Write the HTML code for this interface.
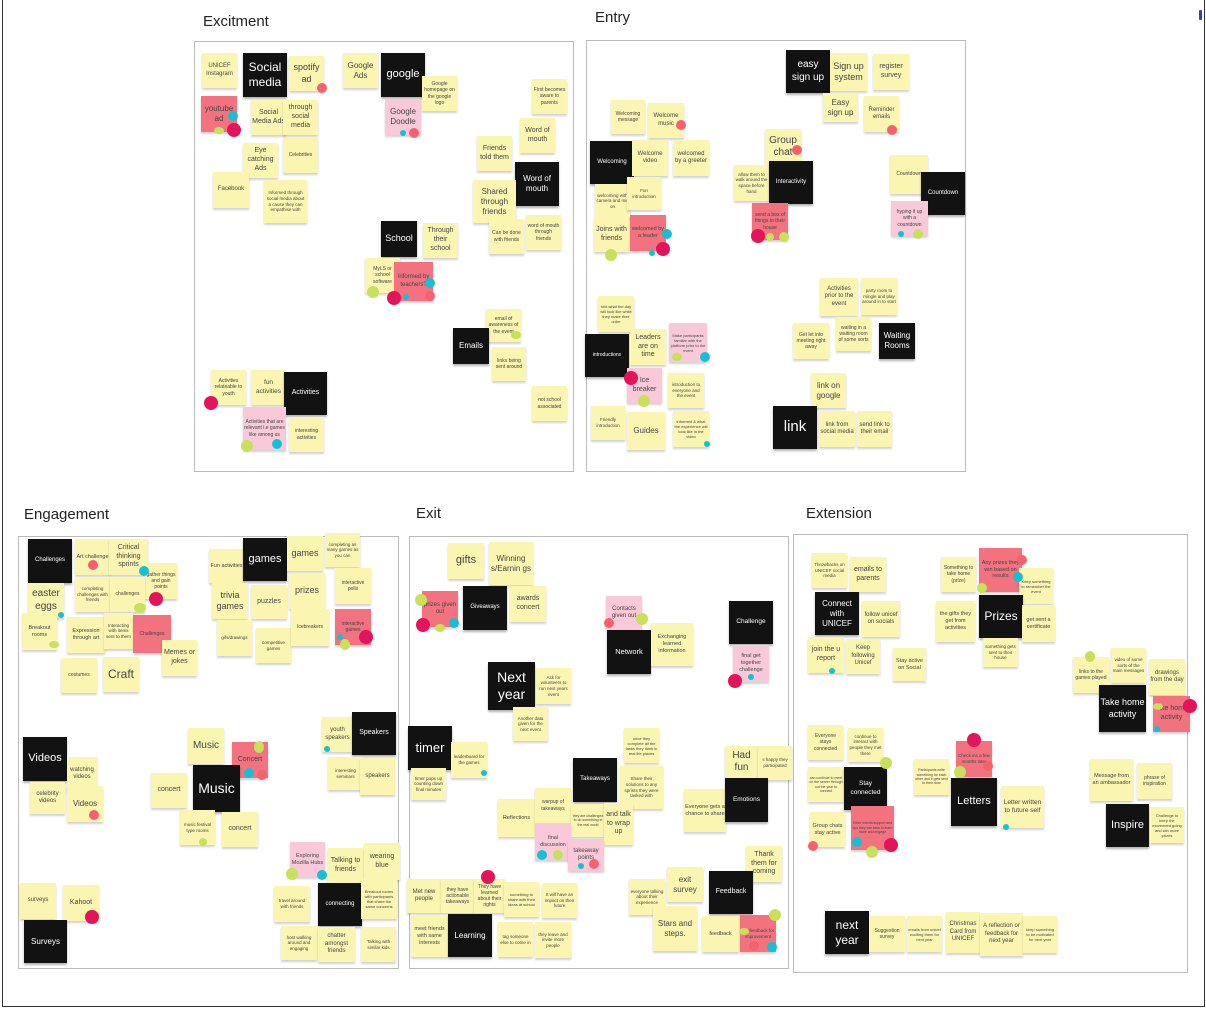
<!DOCTYPE html>
<html><head><meta charset="utf-8"><style>
html,body{margin:0;padding:0;background:#fff;}
body{width:1206px;height:1010px;position:relative;overflow:hidden;font-family:"Liberation Sans",sans-serif;}
.outer{position:absolute;left:2px;top:-2px;width:1201px;height:1008px;border:1px solid #333;border-top:none;}
.f{position:absolute;border:1px solid #bbb;background:#fff;}
.t{position:absolute;font-size:15px;color:#222;}
.n{position:absolute;width:35px;height:35px;background:#fbf5b2;color:#444;display:flex;align-items:center;justify-content:center;text-align:center;font-size:6px;line-height:1.25;box-shadow:0 2px 2px rgba(0,0,0,.18);overflow:hidden;box-sizing:border-box;padding:1px;}
.k{background:#121212;color:#fff;width:44px;height:44px;font-size:7px;box-shadow:0 2px 2px rgba(0,0,0,.3);}
.p{background:#f9c9da;}
.r{background:#f2737f;}
.d{position:absolute;border-radius:50%;}
.c{background:#f6616d}.m{background:#e2145b}.b{background:#15c0d3}.g{background:#c8e05a}
</style></head><body>
<div class="outer"></div>
<div class="t" style="left:203px;top:13px">Excitment</div>
<div class="t" style="left:595px;top:9px">Entry</div>
<div class="t" style="left:24px;top:506px">Engagement</div>
<div class="t" style="left:416px;top:505px">Exit</div>
<div class="t" style="left:806px;top:505px">Extension</div>
<div class="f" style="left:194px;top:41px;width:378px;height:429px"></div>
<div class="f" style="left:586px;top:40px;width:378px;height:430px"></div>
<div class="f" style="left:18px;top:536px;width:379px;height:431px"></div>
<div class="f" style="left:409px;top:536px;width:378px;height:431px"></div>
<div class="f" style="left:793px;top:534px;width:393px;height:437px"></div>
<div class="d" style="left:1199px;top:10px;width:3px;height:10px;background:#2a3dd8;border-radius:1px"></div>

<!-- Excitment -->
<div class="n" style="left:202px;top:53px">UNICEF Instagram</div>
<div class="n k" style="left:243px;top:53px;font-size:12px">Social media</div>
<div class="n" style="left:289px;top:56px;font-size:9px">spotify ad</div>
<div class="n" style="left:343px;top:53px;font-size:8px">Google Ads</div>
<div class="n k" style="left:381px;top:53px;font-size:11px">google</div>
<div class="n" style="left:422px;top:76px;font-size:5px">Google homepage on the google logo</div>
<div class="n r" style="left:201px;top:96px;width:36px;height:36px;font-size:8px">youtube ad</div>
<div class="n" style="left:251px;top:100px;font-size:7px">Social Media Ads</div>
<div class="n" style="left:283px;top:100px;font-size:7px">through social media</div>
<div class="n p" style="left:385px;top:99px;width:36px;height:36px;font-size:8px">Google Doodle</div>
<div class="n" style="left:532px;top:79px;font-size:5px">First becomes aware to parents</div>
<div class="n" style="left:520px;top:118px;font-size:7px">Word of mouth</div>
<div class="n" style="left:477px;top:136px;font-size:7px">Friends told them</div>
<div class="n" style="left:243px;top:143px;font-size:7px">Eye catching Ads</div>
<div class="n" style="left:283px;top:138px;font-size:5px">Celebrities</div>
<div class="n k" style="left:515px;top:162px;font-size:8px">Word of mouth</div>
<div class="n" style="left:473px;top:180px;width:43px;height:43px;font-size:8px">Shared through friends</div>
<div class="n" style="left:213px;top:172px;width:36px;height:36px;font-size:6px">Facebook</div>
<div class="n" style="left:264px;top:180px;width:43px;height:43px;font-size:4.5px">Informed through social media about a cause they can empathise with</div>
<div class="n" style="left:489px;top:219px;font-size:5px">Can be done with friends</div>
<div class="n" style="left:526px;top:215px;font-size:5px">word of mouth through friends</div>
<div class="n k" style="left:381px;top:221px;width:36px;height:36px;font-size:9px">School</div>
<div class="n" style="left:423px;top:223px;font-size:7px">Through their school</div>
<div class="n" style="left:365px;top:258px;font-size:5px">MyLS or school software</div>
<div class="n r" style="left:394px;top:262px;width:39px;height:39px;font-size:6px">Informed by teachers?</div>
<div class="n" style="left:486px;top:309px;height:33px;font-size:5px">email of awareness of the event</div>
<div class="n k" style="left:453px;top:328px;width:36px;height:36px;font-size:8px">Emails</div>
<div class="n" style="left:492px;top:347px;width:34px;height:34px;font-size:5px">links being sent around</div>
<div class="n" style="left:211px;top:370px;font-size:5px">Activities relateable to youth</div>
<div class="n" style="left:251px;top:370px;font-size:6.5px">fun activities</div>
<div class="n k" style="left:284px;top:372px;width:43px;height:43px;font-size:7px">Activities</div>
<div class="n" style="left:532px;top:386px;font-size:5px">not school associated</div>
<div class="n p" style="left:243px;top:407px;width:43px;height:43px;font-size:5px">Activities that are relevant i.e games like among us</div>
<div class="n" style="left:289px;top:417px;font-size:5px">interesting activities</div>
<div class="d b" style="left:228px;top:111px;width:10px;height:10px"></div>
<div class="d g" style="left:214px;top:127px;width:10px;height:7px"></div>
<div class="d m" style="left:227px;top:123px;width:14px;height:14px"></div>
<div class="d c" style="left:317px;top:83px;width:10px;height:10px"></div>
<div class="d b" style="left:400px;top:130px;width:6px;height:6px"></div>
<div class="d c" style="left:409px;top:128px;width:10px;height:10px"></div>
<div class="d b" style="left:425px;top:278px;width:10px;height:10px"></div>
<div class="d c" style="left:425px;top:291px;width:10px;height:10px"></div>
<div class="d b" style="left:403px;top:294px;width:6px;height:6px"></div>
<div class="d m" style="left:387px;top:291px;width:14px;height:14px"></div>
<div class="d g" style="left:367px;top:286px;width:12px;height:12px"></div>
<div class="d g" style="left:511px;top:331px;width:10px;height:8px"></div>
<div class="d m" style="left:204px;top:396px;width:14px;height:14px"></div>
<div class="d g" style="left:241px;top:440px;width:12px;height:12px"></div>
<div class="d b" style="left:272px;top:439px;width:10px;height:10px"></div>

<!-- Entry -->
<div class="n k" style="left:786px;top:50px;height:43px;font-size:10px">easy sign up</div>
<div class="n" style="left:830px;top:53px;width:37px;height:38px;font-size:9px">Sign up system</div>
<div class="n" style="left:873px;top:54px;width:36px;height:36px;font-size:7px">register survey</div>
<div class="n" style="left:823px;top:93px;height:29px;font-size:8px">Easy sign up</div>
<div class="n" style="left:864px;top:96px;height:36px;font-size:6px">Reminder emails</div>
<div class="n" style="left:611px;top:100px;width:34px;height:34px;font-size:5px">Welcoming message</div>
<div class="n" style="left:648px;top:103px;width:36px;font-size:6px">Welcome music</div>
<div class="n" style="left:765px;top:129px;width:36px;height:36px;font-size:10px">Group chat</div>
<div class="n k" style="left:590px;top:141px;height:43px;font-size:6px">Welcoming</div>
<div class="n" style="left:632px;top:140px;width:36px;height:36px;font-size:6px">Welcome video</div>
<div class="n" style="left:673px;top:140px;width:36px;height:36px;font-size:6px">welcomed by a greeter</div>
<div class="n" style="left:890px;top:155px;width:38px;height:39px;font-size:5px">Countdown</div>
<div class="n k" style="left:921px;top:172px;height:43px;font-size:6px">Countdown</div>
<div class="n" style="left:734px;top:165px;width:35px;height:36px;font-size:4.5px">allow them to walk around the space before hand</div>
<div class="n k" style="left:769px;top:161px;height:43px;font-size:6px">Interactivity</div>
<div class="n" style="left:595px;top:184px;height:34px;font-size:4.5px">welcoming with camera and mic on</div>
<div class="n" style="left:627px;top:177px;width:34px;height:33px;font-size:4.5px">Fun introduction</div>
<div class="n" style="left:594px;top:217px;font-size:7px">Joins with friends</div>
<div class="n r" style="left:630px;top:215px;width:36px;height:36px;font-size:5.5px">welcomed by a leader</div>
<div class="n r" style="left:752px;top:203px;width:36px;height:37px;font-size:5px">send a box of things to their house</div>
<div class="n p" style="left:891px;top:201px;width:37px;height:35px;font-size:5px">hyping it up with a countdown</div>
<div class="n" style="left:820px;top:278px;width:38px;height:38px;font-size:6px">Activities prior to the event</div>
<div class="n" style="left:861px;top:278px;width:36px;height:37px;font-size:4.5px">party room to mingle and play around in to start</div>
<div class="n" style="left:793px;top:323px;width:36px;height:36px;font-size:5px">Get let into meeting right away</div>
<div class="n" style="left:836px;top:317px;height:34px;font-size:5px">waiting in a waiting room of some sorts</div>
<div class="n k" style="left:879px;top:323px;width:36px;height:36px;font-size:8px">Waiting Rooms</div>
<div class="n" style="left:598px;top:296px;width:36px;height:36px;font-size:4px">told what the day will look like while they make their order</div>
<div class="n k" style="left:585px;top:334px;height:43px;font-size:5px">introductions</div>
<div class="n" style="left:630px;top:329px;width:36px;height:36px;font-size:7px">Leaders are on time</div>
<div class="n p" style="left:669px;top:323px;width:38px;height:39px;font-size:4px">Make participants familiar with the platform prior to the event</div>
<div class="n p" style="left:627px;top:368px;font-size:7px">Ice breaker</div>
<div class="n" style="left:668px;top:373px;width:36px;font-size:4.5px">introduction to everyone and the event</div>
<div class="n" style="left:811px;top:373px;font-size:8px">link on google</div>
<div class="n" style="left:591px;top:406px;width:34px;height:34px;font-size:4.5px">Friendly introduction</div>
<div class="n" style="left:627px;top:412px;width:38px;height:38px;font-size:8px">Guides</div>
<div class="n" style="left:673px;top:411px;width:36px;height:36px;font-size:4px">informed &amp; what the experience will look like in the video</div>
<div class="n k" style="left:773px;top:406px;height:43px;font-size:15px">link</div>
<div class="n" style="left:819px;top:411px;width:36px;height:36px;font-size:6px">link from social media</div>
<div class="n" style="left:857px;top:411px;height:36px;font-size:6px">send link to their email</div>
<div class="d c" style="left:887px;top:125px;width:10px;height:10px"></div>
<div class="d c" style="left:676px;top:120px;width:10px;height:10px"></div>
<div class="d c" style="left:792px;top:145px;width:10px;height:10px"></div>
<div class="d g" style="left:605px;top:249px;width:12px;height:12px"></div>
<div class="d b" style="left:662px;top:229px;width:10px;height:10px"></div>
<div class="d m" style="left:656px;top:242px;width:14px;height:14px"></div>
<div class="d b" style="left:649px;top:250px;width:6px;height:6px"></div>
<div class="d m" style="left:751px;top:229px;width:14px;height:14px"></div>
<div class="d g" style="left:766px;top:233px;width:8px;height:8px"></div>
<div class="d g" style="left:779px;top:232px;width:10px;height:10px"></div>
<div class="d b" style="left:898px;top:231px;width:6px;height:6px"></div>
<div class="d g" style="left:913px;top:229px;width:10px;height:10px"></div>
<div class="d g" style="left:672px;top:353px;width:10px;height:8px"></div>
<div class="d b" style="left:700px;top:352px;width:10px;height:10px"></div>
<div class="d m" style="left:624px;top:371px;width:14px;height:14px"></div>
<div class="d g" style="left:638px;top:395px;width:12px;height:12px"></div>
<div class="d b" style="left:704px;top:441px;width:6px;height:6px"></div>

<!-- Engagement -->
<div class="n k" style="left:28px;top:539px;font-size:6px">Challenges</div>
<div class="n" style="left:75px;top:539px;height:36px;font-size:5.5px">Art challenge</div>
<div class="n" style="left:109px;top:539px;width:39px;height:36px;font-size:7px">Critical thinking sprints</div>
<div class="n" style="left:145px;top:563px;width:32px;height:36px;font-size:5px">gather things and gain points</div>
<div class="n" style="left:28px;top:583px;width:36px;font-size:10px">easter eggs</div>
<div class="n" style="left:75px;top:577px;font-size:4.5px">completing challenges with friends</div>
<div class="n" style="left:110px;top:577px;font-size:5px">challenges</div>
<div class="n" style="left:22px;top:613px;height:37px;font-size:5.5px">Breakout rooms</div>
<div class="n" style="left:67px;top:617px;width:38px;height:36px;font-size:5.5px">Expression through art</div>
<div class="n" style="left:104px;top:613px;width:29px;height:36px;font-size:4.5px">Interacting with items sent to them</div>
<div class="n r" style="left:133px;top:615px;width:38px;height:38px;font-size:5px">Challenges</div>
<div class="n" style="left:162px;top:640px;height:36px;font-size:7px">Memes or jokes</div>
<div class="n" style="left:61px;top:658px;width:36px;font-size:5px">costumes</div>
<div class="n" style="left:103px;top:657px;width:36px;font-size:12px">Craft</div>
<div class="n" style="left:209px;top:549px;height:34px;font-size:5.5px">Fun activities</div>
<div class="n k" style="left:243px;top:538px;height:43px;font-size:11px">games</div>
<div class="n" style="left:287px;top:536px;width:36px;font-size:9px">games</div>
<div class="n" style="left:325px;top:533px;height:34px;font-size:4.5px">completing as many games as you can</div>
<div class="n" style="left:212px;top:583px;width:36px;height:36px;font-size:9px">trivia games</div>
<div class="n" style="left:251px;top:585px;width:36px;height:34px;font-size:7px">puzzles</div>
<div class="n" style="left:289px;top:573px;width:36px;height:36px;font-size:9px">prizes</div>
<div class="n" style="left:335px;top:568px;width:36px;height:36px;font-size:5px">interactive polls</div>
<div class="n" style="left:217px;top:620px;height:36px;font-size:4.5px">gifs/drawings</div>
<div class="n" style="left:256px;top:628px;font-size:4.5px">competitive games</div>
<div class="n" style="left:291px;top:609px;width:38px;height:37px;font-size:5px">Icebreakers</div>
<div class="n r" style="left:335px;top:609px;width:36px;height:36px;font-size:5px">interactive games</div>
<div class="n k" style="left:23px;top:737px;font-size:11px">Videos</div>
<div class="n" style="left:67px;top:757px;width:30px;height:34px;font-size:6px">watching videos</div>
<div class="n" style="left:30px;top:782px;height:32px;font-size:6px">celebrity videos</div>
<div class="n" style="left:67px;top:786px;width:36px;height:36px;font-size:8px">Videos</div>
<div class="n" style="left:188px;top:728px;width:36px;height:36px;font-size:10px">Music</div>
<div class="n r" style="left:232px;top:742px;width:36px;height:36px;font-size:7px">Concert</div>
<div class="n" style="left:151px;top:773px;width:36px;font-size:7px">concert</div>
<div class="n k" style="left:193px;top:765px;width:47px;height:47px;font-size:14px">Music</div>
<div class="n" style="left:180px;top:810px;font-size:4.5px">music festival type rooms</div>
<div class="n" style="left:222px;top:812px;width:36px;font-size:7px">concert</div>
<div class="n" style="left:322px;top:717px;width:31px;font-size:6px">youth speakers</div>
<div class="n k" style="left:352px;top:712px;height:43px;font-size:7px">Speakers</div>
<div class="n" style="left:328px;top:757px;height:33px;font-size:4.5px">interesting seminars</div>
<div class="n" style="left:360px;top:758px;height:37px;font-size:6px">speakers</div>
<div class="n p" style="left:290px;top:842px;font-size:5.5px">Exploring Mozilla Hubs</div>
<div class="n" style="left:328px;top:848px;font-size:7px">Talking to friends</div>
<div class="n" style="left:364px;top:843px;width:36px;height:37px;font-size:7px">wearing blue</div>
<div class="n" style="left:274px;top:886px;width:36px;height:36px;font-size:4.5px">travel around with friends</div>
<div class="n k" style="left:318px;top:883px;height:43px;font-size:6px">connecting</div>
<div class="n" style="left:361px;top:879px;width:36px;height:40px;font-size:4px">Breakout rooms with participants that share the same concerns</div>
<div class="n" style="left:20px;top:883px;width:36px;height:36px;font-size:6px">surveys</div>
<div class="n" style="left:63px;top:885px;width:36px;height:36px;font-size:7px">Kahoot</div>
<div class="n k" style="left:24px;top:920px;width:43px;height:43px;font-size:8px">Surveys</div>
<div class="n" style="left:281px;top:926px;width:36px;height:34px;font-size:4.5px">host walking around and engaging</div>
<div class="n" style="left:318px;top:927px;width:37px;font-size:6px">chatter amongst friends</div>
<div class="n" style="left:361px;top:927px;font-size:4.5px">Talking with similar kids</div>
<div class="d c" style="left:88px;top:560px;width:10px;height:10px"></div>
<div class="d b" style="left:139px;top:566px;width:10px;height:10px"></div>
<div class="d m" style="left:149px;top:592px;width:14px;height:14px"></div>
<div class="d b" style="left:58px;top:612px;width:6px;height:6px"></div>
<div class="d g" style="left:134px;top:603px;width:12px;height:10px"></div>
<div class="d g" style="left:49px;top:641px;width:10px;height:7px"></div>
<div class="d b" style="left:337px;top:634px;width:6px;height:6px"></div>
<div class="d g" style="left:340px;top:639px;width:10px;height:11px"></div>
<div class="d m" style="left:359px;top:630px;width:14px;height:14px"></div>
<div class="d c" style="left:89px;top:810px;width:10px;height:10px"></div>
<div class="d g" style="left:254px;top:741px;width:10px;height:12px"></div>
<div class="d b" style="left:244px;top:768px;width:10px;height:10px"></div>
<div class="d c" style="left:257px;top:770px;width:10px;height:10px"></div>
<div class="d g" style="left:199px;top:838px;width:8px;height:8px"></div>
<div class="d b" style="left:324px;top:746px;width:6px;height:6px"></div>
<div class="d g" style="left:286px;top:868px;width:12px;height:12px"></div>
<div class="d b" style="left:317px;top:870px;width:10px;height:10px"></div>
<div class="d m" style="left:85px;top:910px;width:14px;height:14px"></div>

<!-- Exit -->
<div class="n" style="left:448px;top:543px;width:36px;height:36px;font-size:11px">gifts</div>
<div class="n" style="left:489px;top:542px;width:44px;height:43px;font-size:8px">Winning s/Earnin gs</div>
<div class="n r" style="left:422px;top:591px;width:36px;height:36px;font-size:6px">prizes given out</div>
<div class="n k" style="left:463px;top:586px;font-size:6px">Giveaways</div>
<div class="n" style="left:510px;top:586px;width:36px;height:36px;font-size:7px">awards concert</div>
<div class="n p" style="left:606px;top:596px;width:36px;height:34px;font-size:6px">Contacts given out</div>
<div class="n k" style="left:729px;top:601px;height:43px;font-size:6.5px">Challenge</div>
<div class="n k" style="left:607px;top:630px;font-size:7.5px">Network</div>
<div class="n" style="left:651px;top:623px;width:42px;height:43px;font-size:5.5px">Exchanging learned information</div>
<div class="n p" style="left:733px;top:645px;width:36px;height:37px;font-size:5.5px">final get together challenge</div>
<div class="n k" style="left:488px;top:662px;width:47px;height:48px;font-size:14px">Next year</div>
<div class="n" style="left:536px;top:668px;height:36px;font-size:4.5px">Ask for volunteers to run next years event</div>
<div class="n" style="left:513px;top:707px;height:34px;font-size:4.5px">Another data given for the next event</div>
<div class="n k" style="left:408px;top:726px;font-size:13px">timer</div>
<div class="n" style="left:451px;top:742px;width:36px;height:36px;font-size:4.5px">leaderboard for the games</div>
<div class="n" style="left:411px;top:768px;height:32px;font-size:4.5px">timer pops up counting down final minutes</div>
<div class="n" style="left:624px;top:728px;font-size:4px">once they complete all the tasks they think in real life places</div>
<div class="n k" style="left:573px;top:758px;font-size:6px">Takeaways</div>
<div class="n" style="left:620px;top:766px;width:43px;height:43px;font-size:4.5px">Share their solutions to any sprints they were tasked with</div>
<div class="n" style="left:725px;top:746px;width:33px;height:32px;font-size:10px">Had fun</div>
<div class="n" style="left:758px;top:746px;width:34px;height:34px;font-size:4.5px">s happy they participated</div>
<div class="n" style="left:684px;top:789px;width:42px;height:43px;font-size:5.5px">Everyone gets a chance to share</div>
<div class="n k" style="left:725px;top:778px;width:43px;font-size:6.5px">Emotions</div>
<div class="n" style="left:498px;top:799px;width:37px;height:38px;font-size:5.5px">Reflections</div>
<div class="n" style="left:535px;top:788px;width:36px;font-size:5px">warpup of takeaways</div>
<div class="n" style="left:571px;top:804px;width:34px;height:33px;font-size:3.5px">they are challenged to do something in the real world</div>
<div class="n" style="left:604px;top:803px;width:29px;height:42px;font-size:7px">and talk to wrap up</div>
<div class="n p" style="left:535px;top:823px;width:36px;height:37px;font-size:5.5px">final discussion</div>
<div class="n p" style="left:568px;top:839px;width:36px;height:32px;font-size:6px">takeaway points</div>
<div class="n" style="left:746px;top:846px;width:36px;height:36px;font-size:7px">Thank them for coming</div>
<div class="n" style="left:407px;top:879px;width:34px;height:34px;font-size:6px">Met new people</div>
<div class="n" style="left:441px;top:879px;width:33px;height:34px;font-size:5px">they have actionable takeaways</div>
<div class="n" style="left:474px;top:879px;width:31px;height:34px;font-size:5px">They have learned about their rights</div>
<div class="n" style="left:504px;top:882px;font-size:4px">something to share with their ideas at school</div>
<div class="n" style="left:542px;top:883px;font-size:4.5px">It will have an impact on their future</div>
<div class="n" style="left:629px;top:879px;width:36px;height:36px;font-size:4.5px">everyone talking about their experience</div>
<div class="n" style="left:667px;top:867px;width:36px;font-size:8px">exit survey</div>
<div class="n k" style="left:709px;top:871px;height:43px;font-size:7px">Feedback</div>
<div class="n" style="left:411px;top:916px;width:37px;height:41px;font-size:5.5px">meet friends with same interests</div>
<div class="n k" style="left:448px;top:914px;height:43px;font-size:8px">Learning</div>
<div class="n" style="left:498px;top:922px;font-size:4.5px">tag someone else to come in</div>
<div class="n" style="left:535px;top:922px;width:36px;height:36px;font-size:4.5px">they leave and invite more people</div>
<div class="n" style="left:653px;top:906px;width:44px;height:45px;font-size:8px">Stars and steps.</div>
<div class="n" style="left:702px;top:916px;width:37px;height:36px;font-size:5.5px">feedback</div>
<div class="n r" style="left:740px;top:915px;width:36px;height:37px;font-size:4.5px">get feedback for improvement</div>
<div class="d g" style="left:415px;top:594px;width:12px;height:12px"></div>
<div class="d m" style="left:416px;top:618px;width:14px;height:14px"></div>
<div class="d g" style="left:435px;top:624px;width:10px;height:8px"></div>
<div class="d b" style="left:449px;top:618px;width:10px;height:10px"></div>
<div class="d c" style="left:604px;top:618px;width:10px;height:10px"></div>
<div class="d g" style="left:636px;top:613px;width:12px;height:12px"></div>
<div class="d m" style="left:728px;top:674px;width:14px;height:14px"></div>
<div class="d b" style="left:748px;top:674px;width:6px;height:6px"></div>
<div class="d b" style="left:481px;top:770px;width:6px;height:6px"></div>
<div class="d b" style="left:537px;top:850px;width:10px;height:10px"></div>
<div class="d g" style="left:553px;top:850px;width:10px;height:10px"></div>
<div class="d b" style="left:578px;top:863px;width:6px;height:6px"></div>
<div class="d c" style="left:589px;top:859px;width:10px;height:10px"></div>
<div class="d m" style="left:481px;top:870px;width:14px;height:14px"></div>
<div class="d g" style="left:769px;top:909px;width:12px;height:12px"></div>
<div class="d g" style="left:739px;top:928px;width:10px;height:7px"></div>
<div class="d c" style="left:749px;top:941px;width:10px;height:10px"></div>
<div class="d b" style="left:767px;top:942px;width:10px;height:10px"></div>

<!-- Extension -->
<div class="n" style="left:812px;top:553px;font-size:4.5px">Throwbacks on UNICEF social media</div>
<div class="n" style="left:850px;top:557px;width:36px;font-size:7px">emails to parents</div>
<div class="n" style="left:941px;top:557px;font-size:5px">Something to take home (prize)</div>
<div class="n r" style="left:979px;top:548px;width:43px;height:44px;font-size:5.5px">Any prizes they win based on results</div>
<div class="n" style="left:1019px;top:568px;width:34px;height:36px;font-size:4px">Keep something to remember the event</div>
<div class="n k" style="left:815px;top:592px;height:43px;font-size:8px">Connect with UNICEF</div>
<div class="n" style="left:862px;top:601px;width:38px;height:36px;font-size:6px">follow unicef on socials</div>
<div class="n" style="left:936px;top:601px;width:39px;height:41px;font-size:5.5px">the gifts they get from activities</div>
<div class="n k" style="left:979px;top:595px;height:43px;font-size:12px">Prizes</div>
<div class="n" style="left:1022px;top:605px;width:33px;height:37px;font-size:5.5px">get sent a certificate</div>
<div class="n" style="left:983px;top:638px;height:29px;font-size:4.5px">something gets sent to their house</div>
<div class="n" style="left:808px;top:637px;width:36px;height:36px;font-size:7px">join the u report</div>
<div class="n" style="left:846px;top:639px;width:34px;font-size:6px">Keep following Unicef</div>
<div class="n" style="left:893px;top:648px;width:33px;height:33px;font-size:5.5px">Stay active on Social</div>
<div class="n" style="left:1073px;top:657px;width:36px;height:36px;font-size:5px">links to the games played</div>
<div class="n" style="left:1111px;top:648px;font-size:4.5px">video of some sorts of the main messages</div>
<div class="n" style="left:1149px;top:659px;width:36px;height:36px;font-size:6px">drawings from the day</div>
<div class="n k" style="left:1099px;top:685px;width:47px;height:47px;font-size:9px">Take home activity</div>
<div class="n r" style="left:1153px;top:696px;width:37px;height:36px;font-size:7px">take home activity</div>
<div class="n" style="left:808px;top:725px;font-size:5px">Everyone stays connected</div>
<div class="n" style="left:848px;top:728px;height:34px;font-size:4.5px">continue to interact with people they met there</div>
<div class="n r" style="left:956px;top:741px;width:36px;height:36px;font-size:4.5px">Check ins a few months later</div>
<div class="n" style="left:914px;top:759px;height:36px;font-size:3.5px">Participants write something for each other and it gets sent to their door</div>
<div class="n" style="left:808px;top:767px;width:36px;font-size:3.5px">can continue to meet on the server through out the year to connect</div>
<div class="n k" style="left:844px;top:767px;width:43px;height:43px;font-size:6.5px">Stay connected</div>
<div class="n k" style="left:951px;top:778px;width:46px;height:48px;font-size:11px">Letters</div>
<div class="n" style="left:1001px;top:786px;width:43px;height:42px;font-size:6.5px">Letter written to future self</div>
<div class="n" style="left:1090px;top:759px;width:43px;height:42px;font-size:5.5px">Message from an ambassador</div>
<div class="n" style="left:1137px;top:763px;height:36px;font-size:5px">phrase of inspiration</div>
<div class="n" style="left:810px;top:812px;font-size:5.5px">Group chats stay active</div>
<div class="n r" style="left:851px;top:806px;width:43px;height:44px;font-size:3.5px">Other events/support and tips they can take to learn more and engage</div>
<div class="n k" style="left:1106px;top:804px;width:43px;height:43px;font-size:11px">Inspire</div>
<div class="n" style="left:1150px;top:807px;width:34px;height:36px;font-size:4px">Challenge to keep the movement going and win more prizes</div>
<div class="n k" style="left:825px;top:911px;height:43px;font-size:12px">next year</div>
<div class="n" style="left:869px;top:916px;width:36px;height:36px;font-size:5px">Suggestion survey</div>
<div class="n" style="left:907px;top:916px;height:36px;font-size:4px">emails from unicef exciting them for next year</div>
<div class="n" style="left:946px;top:912px;width:34px;height:41px;font-size:6px">Christmas Card from UNICEF</div>
<div class="n" style="left:980px;top:913px;width:43px;height:43px;font-size:6px">A reflection or feedback for next year</div>
<div class="n" style="left:1023px;top:916px;width:34px;height:37px;font-size:4px">keep something to be motivated for next year</div>
<div class="d c" style="left:1017px;top:555px;width:10px;height:10px"></div>
<div class="d b" style="left:1013px;top:572px;width:10px;height:10px"></div>
<div class="d g" style="left:977px;top:583px;width:10px;height:10px"></div>
<div class="d b" style="left:829px;top:668px;width:6px;height:6px"></div>
<div class="d g" style="left:1085px;top:651px;width:10px;height:11px"></div>
<div class="d m" style="left:1183px;top:699px;width:14px;height:14px"></div>
<div class="d g" style="left:1153px;top:703px;width:10px;height:7px"></div>
<div class="d b" style="left:1154px;top:726px;width:6px;height:6px"></div>
<div class="d g" style="left:880px;top:757px;width:12px;height:12px"></div>
<div class="d m" style="left:967px;top:733px;width:14px;height:14px"></div>
<div class="d c" style="left:983px;top:761px;width:10px;height:10px"></div>
<div class="d g" style="left:954px;top:766px;width:12px;height:12px"></div>
<div class="d b" style="left:1003px;top:824px;width:6px;height:6px"></div>
<div class="d c" style="left:808px;top:841px;width:10px;height:10px"></div>
<div class="d b" style="left:852px;top:837px;width:10px;height:10px"></div>
<div class="d g" style="left:866px;top:846px;width:12px;height:12px"></div>
<div class="d m" style="left:884px;top:838px;width:14px;height:14px"></div>
</body></html>
